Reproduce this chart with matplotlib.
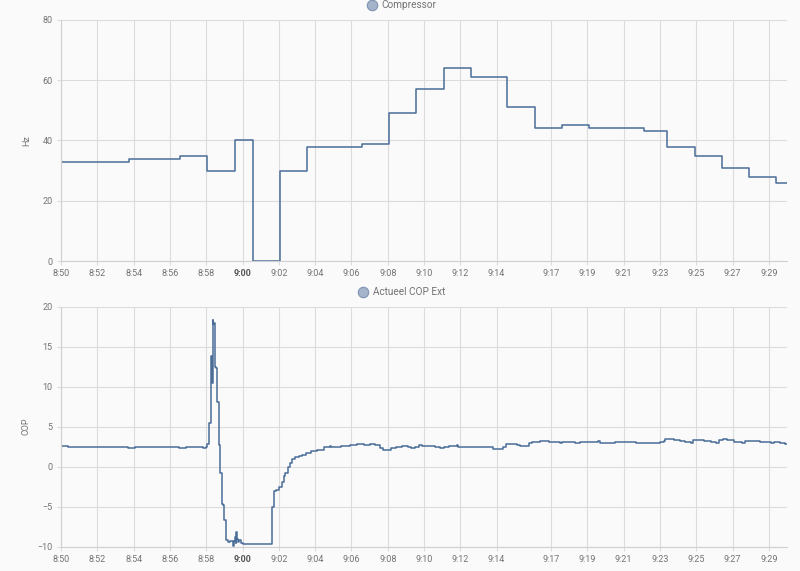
import matplotlib.pyplot as plt
from matplotlib.lines import Line2D

plt.rcParams['font.family'] = ['Roboto', 'DejaVu Sans']

# x-as: minuten na 8:50
tick_pos = [0, 2, 4, 6, 8, 10, 12, 14, 16, 18, 20, 22, 24, 27, 29, 31, 33, 35, 37, 39]
tick_labels = ['8:50', '8:52', '8:54', '8:56', '8:58', '9:00', '9:02', '9:04', '9:06', '9:08',
               '9:10', '9:12', '9:14', '9:17', '9:19', '9:21', '9:23', '9:25', '9:27', '9:29']

# compressor frequentie (Hz), trapjes
hz_t = [0, 3.75, 6.57, 8.06, 9.59, 10.6, 12.07, 13.55, 16.6, 18.05, 19.58, 21.1, 22.6,
        24.6, 26.1, 27.59, 29.09, 32.1, 33.4, 34.93, 36.4, 37.9, 39.4, 40]
hz_v = [33, 34, 35, 30, 40, 0, 30, 38, 39, 49, 57, 64, 61,
        51, 44, 45, 44, 43, 38, 35, 31, 28, 26, 26]

# actuele COP
cop_t = [0, 0.4, 1.0, 1.3, 2.0, 2.9, 3.2, 3.7, 4.1, 4.5, 4.9, 5.4, 6.1, 6.5, 6.9, 7.3, 7.8,
         8.0, 8.05, 8.15, 8.25, 8.28, 8.33, 8.36, 8.40, 8.43, 8.47, 8.52, 8.6, 8.68, 8.72, 8.76,
         8.86, 8.92, 9.0, 9.1, 9.2, 9.3, 9.45, 9.5, 9.55, 9.6, 9.63, 9.66, 9.7, 9.75, 9.8, 9.9,
         10.0, 11.6, 11.75, 11.85, 12.0, 12.15, 12.3, 12.35, 12.5, 12.6, 12.75, 12.9, 13.1,
         13.3, 13.5, 13.8, 14.1, 14.5, 14.8, 14.9, 15.4, 15.9, 16.3, 16.7, 17.0, 17.3, 17.58,
         17.74, 18.2, 18.45, 18.8, 19.1, 19.3, 19.5, 19.7, 19.9, 20.6, 20.9, 21.1, 21.4, 21.6,
         21.8, 21.9, 23.4, 23.7, 23.8, 24.35, 24.5, 24.7, 25.1, 25.3, 25.8, 25.95, 26.4, 26.9,
         27.5, 27.6, 28.3, 28.6, 29.6, 29.7, 30.5, 31.3, 31.7, 33.0, 33.2, 33.3, 33.5, 33.8,
         34.1, 34.4, 34.7, 34.8, 35.4, 35.8, 36.1, 36.25, 36.5, 36.7, 37.1, 37.5, 37.7, 38.1,
         38.5, 39.1, 39.3, 39.6, 39.9, 40]
cop_v = [2.6, 2.5, 2.45, 2.5, 2.5, 2.45, 2.4, 2.35, 2.45, 2.4, 2.5, 2.45, 2.4, 2.35, 2.45, 2.4, 2.35,
         2.4, 2.8, 5.4, 10.4, 13.8, 10.5, 18.3, 17.8, 18.0, 12.5, 12.3, 8.1, 7.8, 2.7, -0.8,
         -4.7, -4.8, -6.7, -9.2, -9.4, -9.3, -9.5, -9.9, -9.3, -8.8, -9.6, -8.2, -9.0, -9.4, -9.2, -9.5,
         -9.7, -5.0, -3.1, -2.9, -2.5, -1.9, -1.2, -0.8, 0.0, 0.4, 0.9, 1.2, 1.3,
         1.5, 1.7, 1.9, 2.1, 2.4, 2.6, 2.5, 2.6, 2.65, 2.8, 2.7, 2.8, 2.7, 2.3,
         2.1, 2.3, 2.5, 2.6, 2.5, 2.3, 2.4, 2.7, 2.6, 2.4, 2.3, 2.4, 2.55, 2.6,
         2.7, 2.5, 2.45, 2.4, 2.2, 2.4, 2.85, 2.8, 2.75, 2.6, 3.0, 3.1, 3.15, 3.1,
         3.0, 3.1, 3.0, 3.05, 3.15, 3.0, 3.05, 3.1, 3.0, 3.05, 3.2, 3.45, 3.4, 3.3,
         3.2, 3.1, 3.0, 3.3, 3.2, 3.1, 3.0, 3.35, 3.4, 3.3, 3.1, 3.0, 3.25, 3.2,
         3.05, 2.9, 3.1, 3.0, 2.85, 2.8]

line_kleur = '#4a6d98'
grid_kleur = '#dcdcdc'
tekst_kleur = '#737373'

fig = plt.figure(figsize=(8, 5.71), dpi=100)
fig.patch.set_facecolor('#fafafa')

ax1 = fig.add_axes([0.07625, 0.5429, 0.9075, 0.4221])
ax2 = fig.add_axes([0.07625, 0.0426, 0.9075, 0.4203])

ax1.step(hz_t, hz_v, where='post', color=line_kleur, linewidth=1.1)
ax2.step(cop_t, cop_v, where='post', color=line_kleur, linewidth=1.1)

ax1.set_ylim(0, 80)
ax1.set_yticks([0, 20, 40, 60, 80])
ax1.set_ylabel('Hz', fontsize=6.5, color=tekst_kleur, labelpad=8)
ax2.set_ylim(-10, 20)
ax2.set_yticks([-10, -5, 0, 5, 10, 15, 20])
ax2.set_ylabel('COP', fontsize=6.5, color=tekst_kleur, labelpad=5)

for ax in (ax1, ax2):
    ax.set_facecolor('#fafafa')
    ax.set_xlim(0, 40)
    ax.set_xticks(tick_pos)
    ax.set_xticklabels(tick_labels)
    ax.grid(True, color=grid_kleur, linewidth=0.8)
    ax.set_axisbelow(True)
    for s in ['top', 'right']:
        ax.spines[s].set_visible(False)
    for s in ['left', 'bottom']:
        ax.spines[s].set_color('#d0d0d0')
        ax.spines[s].set_linewidth(0.8)
    ax.tick_params(labelsize=6.5, colors=tekst_kleur, length=3, width=0.8, pad=3)
    ax.tick_params(axis='both', color=grid_kleur)
    lbl = ax.get_xticklabels()[5]
    lbl.set_fontweight('bold')
    lbl.set_color('#555555')

# legenda bovenaan elke grafiek
for tx, ty, naam in [(0.4646, 0.9912, 'Compressor'), (0.4541, 0.489, 'Actueel COP Ext')]:
    fig.add_artist(Line2D([tx], [ty], marker='o', markersize=7.5, color='#a3b4cb',
                          markeredgecolor='#7d93b2', markeredgewidth=0.8,
                          transform=fig.transFigure))
    fig.text(tx + 0.012, ty, naam, fontsize=7.2, color=tekst_kleur, va='center', ha='left')

plt.savefig('out.png', dpi=100, facecolor=fig.get_facecolor())
